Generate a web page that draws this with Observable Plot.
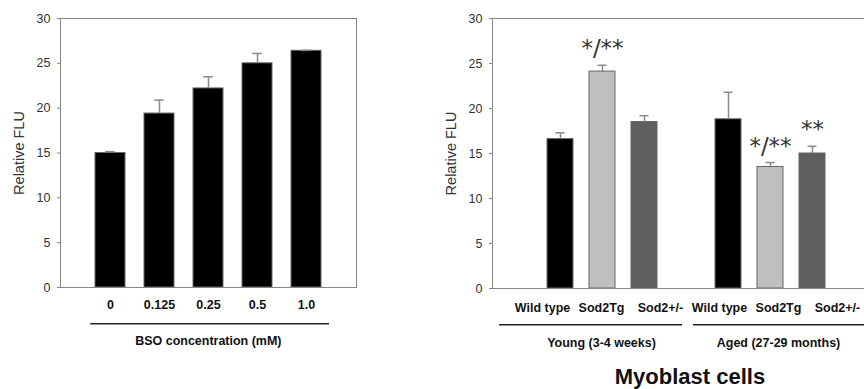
<!DOCTYPE html>
<html><head><meta charset="utf-8">
<script src="https://cdn.jsdelivr.net/npm/d3@7"></script>
<script src="https://cdn.jsdelivr.net/npm/@observablehq/plot@0.6"></script>
<style>
html,body{margin:0;padding:0;background:#fff;}
body{width:864px;height:389px;position:relative;overflow:hidden;font-family:"Liberation Sans",Arial,sans-serif;}
.abs{position:absolute;}
svg{overflow:visible;max-width:none !important;}
#rm,#rs{width:440px;}
#title{position:absolute;left:490px;width:400px;top:366px;line-height:22px;text-align:center;font-weight:bold;font-size:22px;color:#111;}
</style></head><body>
<div id="lm" class="abs" style="left:0;top:0"></div>
<div id="ls" class="abs" style="left:0;top:290px"></div>
<div id="rm" class="abs" style="left:440px;top:0"></div>
<div id="rs" class="abs" style="left:440px;top:290px"></div>
<div id="title">Myoblast cells</div>
<script>
// ---- data ----
const bsoLevels = ["0", "0.125", "0.25", "0.5", "1.0"];
const bsoMeans = [15.0, 19.4, 22.2, 25.0, 26.4];
const bsoErrors = [0.15, 1.5, 1.3, 1.1, 0.05];
const yTicks = [0, 5, 10, 15, 20, 25, 30];
const ageGroups = ["Young (3-4 weeks)", "Aged (27-29 months)"];
const genotypes = ["Wild type", "Sod2Tg", "Sod2+/-"];
const youngMeans = [16.6, 24.1, 18.5];
const youngErrors = [0.7, 0.7, 0.7];
const agedMeans = [18.8, 13.5, 15.0];
const agedErrors = [3.0, 0.5, 0.8];
const sigGroup = [0, 1, 1];
const sigGenotype = [1, 1, 2];
const sigText = ["*/**", "*/**", "**"];
const genotypeColors = ["#000000", "#bfbfbf", "#5e5e5e"];

// ---- tables ----
const FONT = '"Liberation Sans", Arial, sans-serif';
const AXIS = "#858585";
const ERR = "#8a8a8a";
const left = bsoLevels.map((c, i) => ({c, v: bsoMeans[i], e: bsoErrors[i]}));
const means = [youngMeans, agedMeans], errs = [youngErrors, agedErrors];
const slotsPerGroup = genotypes.length + 1;
const right = ageGroups.flatMap((g, gi) => genotypes.map((t, ti) => ({
  g, gi, t, key: gi * genotypes.length + ti, slot: gi * slotsPerGroup + ti, v: means[gi][ti], e: errs[gi][ti]
})));
const sig = sigText.map((s, i) => {
  const r = right.find(d => d.gi === sigGroup[i] && d.t === genotypes[sigGenotype[i]]);
  return {s, slot: r.slot, top: r.v + r.e};
});
const slots = d3.range(ageGroups.length * slotsPerGroup - 1);
const style = {background: "transparent", fontFamily: FONT, overflow: "visible", maxWidth: "none"};

// ---- left panel ----
document.getElementById("lm").append(Plot.plot({
  width: 357, height: 314, marginLeft: 60, marginRight: 1, marginTop: 18, marginBottom: 27,
  style,
  x: {type: "band", domain: bsoLevels, paddingInner: 0.39, paddingOuter: 0.7},
  y: {domain: [0, 30]},
  marks: [
    Plot.barY(left, {x: "c", y: "v", fill: "#000", stroke: "#666", strokeWidth: 1}),
    Plot.ruleX(left, {x: "c", y1: "v", y2: d => d.v + d.e, stroke: ERR, strokeWidth: 1.5}),
    Plot.tickY(left, {x: "c", y: d => d.v + d.e, stroke: ERR, strokeWidth: 1.5, insetLeft: 10.25, insetRight: 10.25}),
    Plot.frame({stroke: AXIS}),
    Plot.axisY({ticks: yTicks, tickSize: 3, tickPadding: 7, stroke: AXIS, fill: "#333", fontSize: 12.5, label: null}),
    Plot.axisX({tickSize: 0, tickPadding: 12.6, fill: "#111", fontSize: 12.5, fontWeight: "bold", label: null}),
    Plot.text(["Relative FLU"], {frameAnchor: "left", rotate: -90, dx: -41, textAnchor: "middle", lineAnchor: "middle", fontSize: 14.5, fill: "#333"})
  ]
}));

document.getElementById("ls").append(Plot.plot({
  width: 357, height: 66.6, marginLeft: 109.7, marginRight: 51, marginTop: 0, marginBottom: 0,
  style,
  x: {type: "point", domain: bsoLevels, padding: 0, axis: null},
  marks: [
    Plot.ruleY([bsoLevels], {x1: d => d[0], x2: d => d[d.length - 1], y: null, stroke: "#222", strokeWidth: 1.5, insetLeft: -19.7, insetRight: -23}),
    Plot.text(["BSO concentration (mM)"], {frameAnchor: "top", lineAnchor: "middle", dy: 50.7, fontWeight: "bold", fontSize: 12.5, fill: "#111"})
  ]
}));

// ---- right panel ----
document.getElementById("rm").append(Plot.plot({
  width: 440, height: 292, marginLeft: 52, marginRight: 1, marginTop: 18, marginBottom: 4,
  style,
  x: {type: "band", domain: slots, paddingInner: 0.39, paddingOuter: 1.215, axis: null},
  y: {domain: [0, 30]},
  color: {domain: genotypes, range: genotypeColors},
  marks: [
    Plot.barY(right, {x: "slot", y: "v", fill: "t", stroke: "#666", strokeWidth: 1}),
    Plot.ruleX(right, {x: "slot", y1: "v", y2: d => d.v + d.e, stroke: ERR, strokeWidth: 1.5}),
    Plot.tickY(right, {x: "slot", y: d => d.v + d.e, stroke: ERR, strokeWidth: 1.5, insetLeft: 8.5, insetRight: 8.5}),
    Plot.frame({stroke: AXIS}),
    Plot.axisY({ticks: yTicks, tickSize: 3, tickPadding: 7, stroke: AXIS, fill: "#333", fontSize: 12.5, label: null}),
    Plot.text(["Relative FLU"], {frameAnchor: "left", rotate: -90, dx: -41, textAnchor: "middle", lineAnchor: "middle", fontSize: 14.5, fill: "#333"}),
    Plot.text(sig, {x: "slot", y: "top", text: "s", dy: -9, lineAnchor: "bottom", fontSize: 23, fontFamily: "DejaVu Sans", fill: "#333"})
  ]
}));

const keys = d3.range(right.length);
document.getElementById("rs").append(Plot.plot({
  width: 440, height: 68.6, marginLeft: 99.7, marginRight: 41, marginTop: 0, marginBottom: 0,
  style,
  x: {type: "point", domain: keys, padding: 0, axis: null},
  marks: [
    Plot.text(right, {x: "key", text: "t", frameAnchor: "top", lineAnchor: "middle", dy: 17.7, fontWeight: "bold", fontSize: 12.5, fill: "#111"}),
    Plot.ruleY(ageGroups.filter((g, gi) => gi === 0), {x1: () => 0, x2: () => genotypes.length - 1, y: null, stroke: "#222", strokeWidth: 1.5, insetLeft: -43, insetRight: -22}),
    Plot.ruleY(ageGroups.filter((g, gi) => gi === 1), {x1: () => genotypes.length, x2: () => 2 * genotypes.length - 1, y: null, stroke: "#222", strokeWidth: 1.5, insetLeft: -26, insetRight: -40}),
    Plot.text(ageGroups, {x: (g, gi) => gi * genotypes.length + 1, frameAnchor: "top", lineAnchor: "middle", dy: 52.3, fontWeight: "bold", fontSize: 12.5, fill: "#111"})
  ]
}));
</script>
</body></html>
